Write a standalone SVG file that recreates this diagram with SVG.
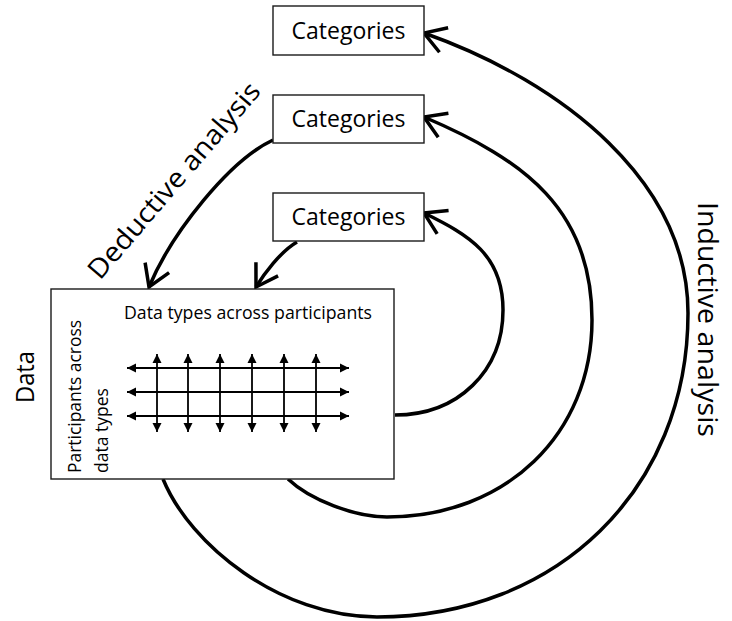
<svg xmlns="http://www.w3.org/2000/svg" width="732" height="621" viewBox="0 0 732 621">
  <style>
    .box { fill: #ffffff; stroke: #1a1a1a; stroke-width: 1.4; }
    .flow { fill: none; stroke: #000000; stroke-width: 3.5; marker-end: url(#open-head); }
    .grid { stroke: #000000; stroke-width: 1.8; marker-start: url(#solid-head); marker-end: url(#solid-head); }
    .label { font-family: "Open Sans", "Noto Sans", "DejaVu Sans", sans-serif; fill: #000000; }
    .cat { font-size: 23px; text-anchor: middle; }
    .small { font-size: 17.5px; }
    .big { font-size: 27px; }
  </style>
  <defs>
    <marker id="open-head" markerUnits="userSpaceOnUse" viewBox="-26 -16 30 32" refX="0" refY="0" markerWidth="30" markerHeight="32" orient="auto" overflow="visible">
      <path d="M -21 -13 L 0 0 L -21 13" fill="none" stroke="#000000" stroke-width="3.5" stroke-linecap="butt" stroke-linejoin="miter"/>
    </marker>
    <marker id="solid-head" markerUnits="userSpaceOnUse" viewBox="-10 -5 10 10" refX="0" refY="0" markerWidth="10" markerHeight="10" orient="auto-start-reverse">
      <path d="M 0 0 L -9 -4.5 L -9 4.5 Z" fill="#000000"/>
    </marker>
  </defs>

  <!-- connectors: deductive and inductive paths -->
  <g id="connectors">
    <!-- deductive: categories down into the data -->
    <path class="flow" d="M 273 140 C 230 160 172 232 149 287"/>
    <path class="flow" d="M 297 242 C 280 252 264 274 256 287"/>
    <!-- inductive: data back up to categories -->
    <path class="flow" d="M 395 415 C 458 415 503 371 503 310 C 503 255 469 235 424 213"/>
    <path class="flow" d="M 288 479 C 310 500 355 517 387 517 C 506 517 592 434 592 320 C 592 210 525 160 424 117"/>
    <path class="flow" d="M 163 479 C 190 545 280 617 377 617 C 557 617 688 489 688 313 C 688 183 565 83 424 33"/>
    <text class="label big" transform="translate(100 281) rotate(-49.4)" textLength="249" lengthAdjust="spacingAndGlyphs">Deductive analysis</text>
    <text class="label big" transform="translate(698 202) rotate(90)" textLength="235" lengthAdjust="spacingAndGlyphs">Inductive analysis</text>
  </g>

  <!-- category boxes -->
  <g id="categories-top">
    <rect class="box" x="273" y="6" width="151" height="49"/>
    <text class="label cat" x="348.5" y="39">Categories</text>
  </g>
  <g id="categories-middle">
    <rect class="box" x="273" y="95" width="151" height="48"/>
    <text class="label cat" x="348.5" y="127">Categories</text>
  </g>
  <g id="categories-bottom">
    <rect class="box" x="273" y="193" width="151" height="48"/>
    <text class="label cat" x="348.5" y="225">Categories</text>
  </g>

  <!-- data node -->
  <g id="data">
    <rect class="box" x="51" y="289" width="343" height="190"/>
    <text class="label" font-size="26" transform="translate(34 403) rotate(-90)" textLength="52" lengthAdjust="spacingAndGlyphs">Data</text>
    <text class="label small" x="124" y="319" textLength="248" lengthAdjust="spacingAndGlyphs">Data types across participants</text>
    <text class="label small" transform="translate(81 473) rotate(-90)" textLength="153" lengthAdjust="spacingAndGlyphs">Participants across</text>
    <text class="label small" transform="translate(108 473) rotate(-90)">data types</text>
    <g id="data-grid">
      <line class="grid" x1="127" y1="368" x2="349" y2="368"/>
      <line class="grid" x1="127" y1="392" x2="349" y2="392"/>
      <line class="grid" x1="127" y1="416" x2="349" y2="416"/>
      <line class="grid" x1="157" y1="354" x2="157" y2="432"/>
      <line class="grid" x1="188" y1="354" x2="188" y2="432"/>
      <line class="grid" x1="220" y1="354" x2="220" y2="432"/>
      <line class="grid" x1="252" y1="354" x2="252" y2="432"/>
      <line class="grid" x1="284" y1="354" x2="284" y2="432"/>
      <line class="grid" x1="316" y1="354" x2="316" y2="432"/>
    </g>
  </g>
</svg>
